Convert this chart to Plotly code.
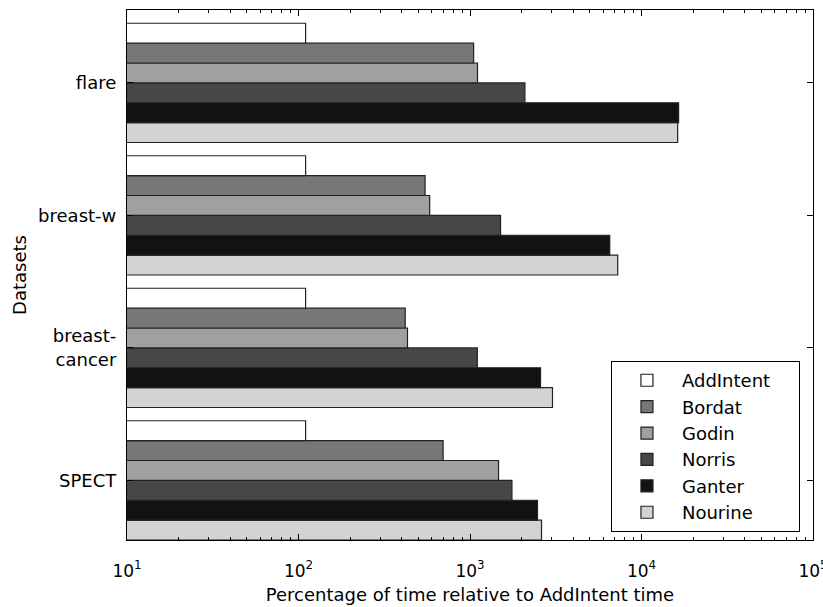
import plotly.graph_objects as go

datasets = ["flare", "breast-w", "breast-<br>cancer", "SPECT"]
positions = [3, 2, 1, 0]

series_names = ["AddIntent", "Bordat", "Godin", "Norris", "Ganter", "Nourine"]
addintent = [110, 110, 110, 110]
bordat = [1050, 547, 419, 697]
godin = [1106, 582, 432, 1467]
norris = [2090, 1507, 1103, 1756]
ganter = [16460, 6530, 2578, 2475]
nourine = [16250, 7267, 3027, 2612]
colors = ["#ffffff", "#777777", "#a0a0a0", "#474747", "#121212", "#d3d3d3"]

xtick_vals = [10, 100, 1000, 10000, 100000]
xtick_text = ["10<sup>1</sup>", "10<sup>2</sup>", "10<sup>3</sup>", "10<sup>4</sup>", "10<sup>5</sup>"]

values = [addintent, bordat, godin, norris, ganter, nourine]

FONT = "DejaVu Sans, Liberation Sans, sans-serif"
PAD = "\u00a0" * 4  # widen the legend box on the right like the reference

fig = go.Figure()
# plotly stacks horizontal grouped bars bottom-up, so add in reverse
for name, vals, col in reversed(list(zip(series_names, values, colors))):
    fig.add_trace(go.Bar(
        y=positions, x=vals, name=name + PAD, orientation="h",
        marker=dict(color=col, line=dict(color="#222222", width=1.2)),
        hovertemplate=name + ": %{x}<extra></extra>",
    ))

fig.update_layout(
    width=823, height=607,
    margin=dict(l=127, r=10, t=10, b=67, autoexpand=False),
    paper_bgcolor="white", plot_bgcolor="white",
    barmode="group", bargap=0.1, bargroupgap=0,
    font=dict(family=FONT, size=18, color="black"),
    legend=dict(
        traceorder="reversed",
        x=0.981, y=0.015, xanchor="right", yanchor="bottom",
        bordercolor="black", borderwidth=1, bgcolor="white",
        font=dict(size=18), itemwidth=60,
    ),
    showlegend=True,
)

fig.update_xaxes(
    type="log", range=[1, 5],
    tickvals=xtick_vals, ticktext=xtick_text,
    tickfont=dict(size=17), ticklabeloverflow="allow",
    showline=True, linecolor="black", linewidth=1.2, mirror="allticks",
    ticks="inside", ticklen=6, tickcolor="black",
    minor=dict(ticks="inside", ticklen=3, tickcolor="black", showgrid=False, dtick="D1"),
    showgrid=False, zeroline=False, automargin=False,
    title=dict(text="Percentage of time relative to AddIntent time", standoff=8,
               font=dict(size=18)),
    ticklabelstandoff=15,
)
fig.update_yaxes(
    range=[-0.45, 3.55],
    tickvals=positions, ticktext=datasets,
    tickfont=dict(size=18),
    showline=True, linecolor="black", linewidth=1.2, mirror="allticks",
    ticks="inside", ticklen=6, tickcolor="black",
    showgrid=False, zeroline=False, automargin=False,
    title=dict(text="Datasets", standoff=6, font=dict(size=18)),
    ticklabelstandoff=6,
)

fig.write_html("out.html", config={"displayModeBar": False},
               post_script="document.body.style.margin='0';")
